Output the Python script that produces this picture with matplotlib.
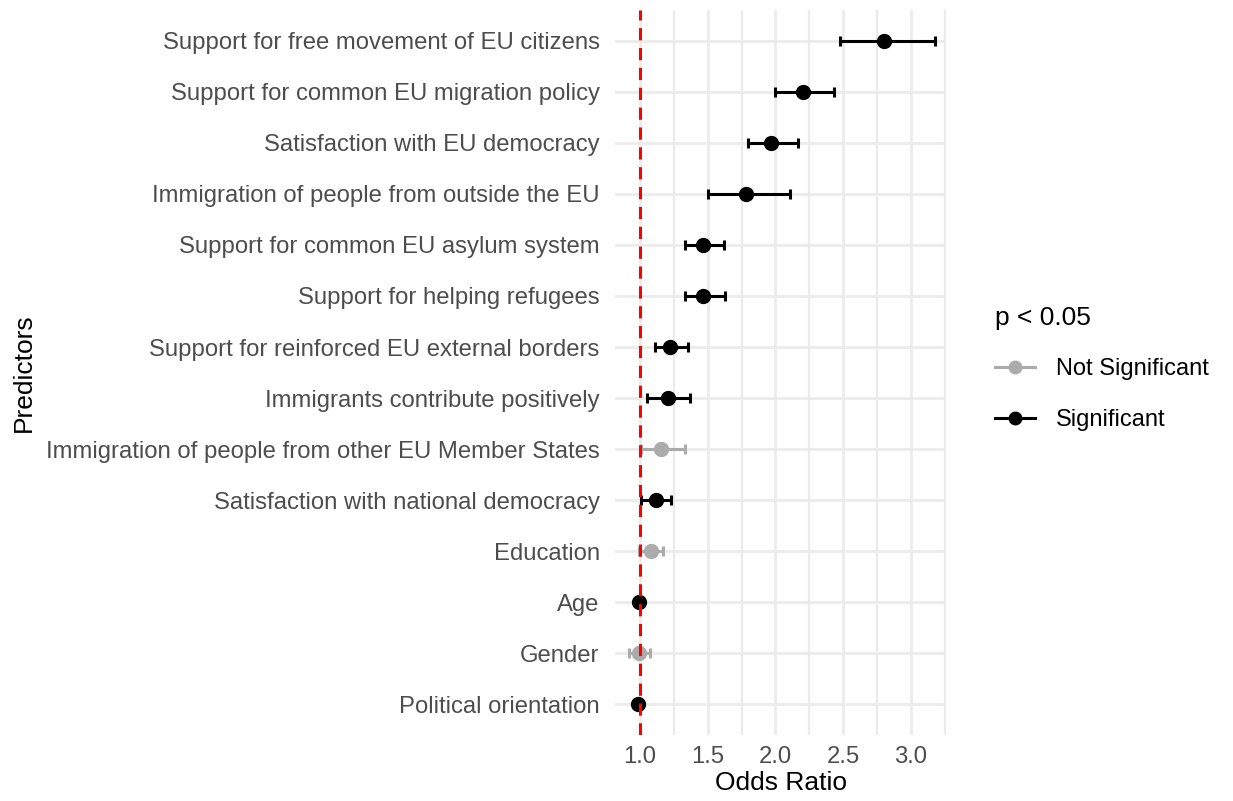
import numpy as np
import matplotlib
matplotlib.use('Agg')
import matplotlib.pyplot as plt
from matplotlib.lines import Line2D
from matplotlib.ticker import MultipleLocator

plt.rcParams['font.family'] = ['Liberation Sans', 'DejaVu Sans']

# odds ratios with 95% CI, listed top to bottom
predictors = ["Support for free movement of EU citizens",
              "Support for common EU migration policy",
              "Satisfaction with EU democracy",
              "Immigration of people from outside the EU",
              "Support for common EU asylum system",
              "Support for helping refugees",
              "Support for reinforced EU external borders",
              "Immigrants contribute positively",
              "Immigration of people from other EU Member States",
              "Satisfaction with national democracy",
              "Education",
              "Age",
              "Gender",
              "Political orientation"]
odds = [2.80, 2.205, 1.97, 1.78, 1.467, 1.467, 1.224, 1.207,
        1.153, 1.116, 1.08, 0.995, 0.995, 0.983]
ci_low = [2.48, 2.00, 1.80, 1.50, 1.33, 1.33, 1.113, 1.05,
          1.01, 1.01, 0.995, 0.99, 0.92, 0.975]
ci_high = [3.18, 2.43, 2.17, 2.11, 1.62, 1.63, 1.356, 1.37,
           1.33, 1.23, 1.17, 1.00, 1.07, 0.99]
significant = [True, True, True, True, True, True, True, True,
               False, True, False, True, False, True]

col_sig = 'black'
col_ns = '#ABABAB'
grid_col = '#EBEBEB'
tick_col = '#4D4D4D'

fig = plt.figure(figsize=(12.33, 8.01), dpi=100)
ax = fig.add_axes([0.4988, 0.0824, 0.2685, 0.905])

ypos = np.arange(len(predictors))
for i in range(len(predictors)):
    c = col_sig if significant[i] else col_ns
    ax.errorbar(odds[i], ypos[i],
                xerr=[[odds[i] - ci_low[i]], [ci_high[i] - odds[i]]],
                fmt='o', color=c, ecolor=c, markersize=10,
                elinewidth=2.2, capsize=3.3, capthick=2.2, zorder=3)

ax.axvline(1.0, color='#FF0000', linestyle=(0, (4, 2.5)), linewidth=2.2,
           zorder=4)

ax.set_ylim(len(predictors) - 0.4, -0.6)
ax.set_xlim(0.815, 3.26)
ax.set_yticks(ypos)
ax.set_yticklabels(predictors)
ax.xaxis.set_major_locator(MultipleLocator(0.5))
ax.xaxis.set_minor_locator(MultipleLocator(0.25))

ax.grid(True, which='major', color=grid_col, linewidth=2.0, zorder=0)
ax.grid(True, which='minor', axis='x', color=grid_col, linewidth=1.6,
        zorder=0)
ax.set_axisbelow(True)
for s in ax.spines.values():
    s.set_visible(False)
ax.tick_params(which='both', length=0, labelsize=17.2, labelcolor=tick_col)
ax.tick_params(axis='y', pad=11)
ax.tick_params(axis='x', pad=8)

ax.set_xlabel('Odds Ratio', fontsize=19, labelpad=2)
ax.set_ylabel('Predictors', fontsize=19)
ax.yaxis.set_label_coords(-1.75, 0.5)

handles = [Line2D([0], [0], color=col_ns, marker='o', markersize=9,
                  linewidth=2.2),
           Line2D([0], [0], color=col_sig, marker='o', markersize=9,
                  linewidth=2.2)]
leg = fig.legend(handles, ['Not Significant', 'Significant'],
                 loc='center left', bbox_to_anchor=(0.790, 0.54),
                 frameon=False, fontsize=17, title='p < 0.05',
                 title_fontsize=19, handlelength=1.7,
                 handletextpad=0.85, labelspacing=1.2)
leg._legend_box.align = 'left'

fig.savefig('out.png', dpi=100)
